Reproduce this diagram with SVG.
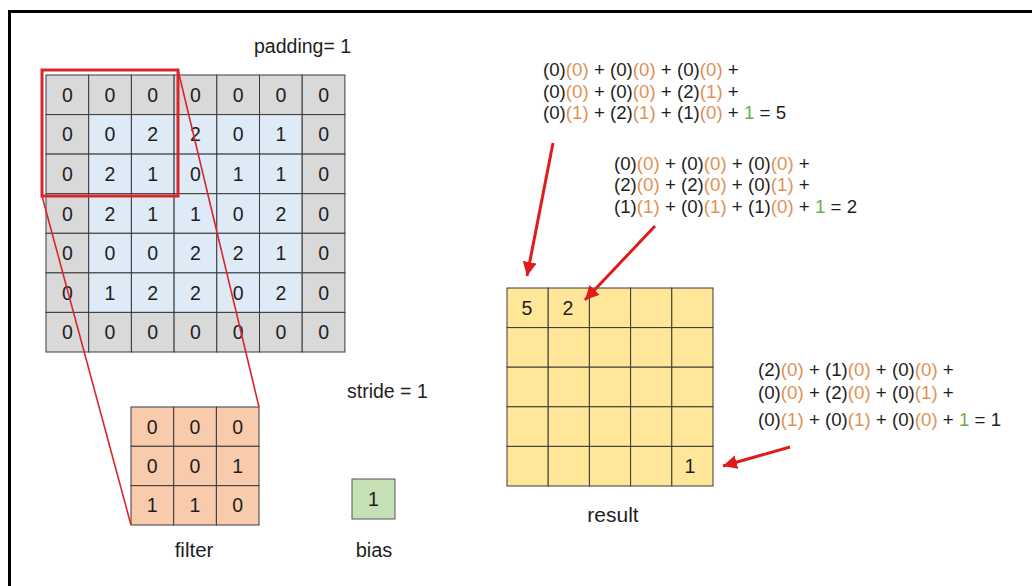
<svg xmlns="http://www.w3.org/2000/svg" width="1032" height="586" viewBox="0 0 1032 586">
<style>
text{font-family:"Liberation Sans",Arial,sans-serif;font-size:19.5px;fill:#1e1e1e}
.fm text{font-size:18.7px}
.c{text-anchor:middle}
.g{fill:#d9d9d9;stroke:#3a3a3a;stroke-width:1}
.b{fill:#deebf7;stroke:#3a3a3a;stroke-width:1}
.f{fill:#f8cbad;stroke:#3a3a3a;stroke-width:1}
.r{fill:#ffe699;stroke:#3a3a3a;stroke-width:1}
.o{fill:#df9155}
.gr{fill:#70ad47}
.red{stroke:#d9262b;fill:none}
.arr{stroke:#e01b1b;stroke-width:3;fill:none;marker-end:url(#ah)}
</style>
<defs>
<marker id="ah" markerUnits="userSpaceOnUse" markerWidth="16" markerHeight="14" refX="14" refY="7" orient="auto">
<path d="M0,0 L14,7 L0,14 Z" fill="#e01b1b"/>
</marker>
</defs>
<rect width="1032" height="586" fill="#fff"/>
<path d="M9.5,586 V11.5 H1032" fill="none" stroke="#000" stroke-width="3"/>

<g id="input">
<rect class="g" x="46" y="75" width="42.7" height="39.6"/><rect class="g" x="88.7" y="75" width="42.7" height="39.6"/><rect class="g" x="131.4" y="75" width="42.7" height="39.6"/><rect class="g" x="174.1" y="75" width="42.7" height="39.6"/><rect class="g" x="216.8" y="75" width="42.7" height="39.6"/><rect class="g" x="259.5" y="75" width="42.7" height="39.6"/><rect class="g" x="302.2" y="75" width="42.7" height="39.6"/>
<rect class="g" x="46" y="114.6" width="42.7" height="39.5"/><rect class="b" x="88.7" y="114.6" width="42.7" height="39.5"/><rect class="b" x="131.4" y="114.6" width="42.7" height="39.5"/><rect class="b" x="174.1" y="114.6" width="42.7" height="39.5"/><rect class="b" x="216.8" y="114.6" width="42.7" height="39.5"/><rect class="b" x="259.5" y="114.6" width="42.7" height="39.5"/><rect class="g" x="302.2" y="114.6" width="42.7" height="39.5"/>
<rect class="g" x="46" y="154.1" width="42.7" height="39.6"/><rect class="b" x="88.7" y="154.1" width="42.7" height="39.6"/><rect class="b" x="131.4" y="154.1" width="42.7" height="39.6"/><rect class="b" x="174.1" y="154.1" width="42.7" height="39.6"/><rect class="b" x="216.8" y="154.1" width="42.7" height="39.6"/><rect class="b" x="259.5" y="154.1" width="42.7" height="39.6"/><rect class="g" x="302.2" y="154.1" width="42.7" height="39.6"/>
<rect class="g" x="46" y="193.7" width="42.7" height="39.6"/><rect class="b" x="88.7" y="193.7" width="42.7" height="39.6"/><rect class="b" x="131.4" y="193.7" width="42.7" height="39.6"/><rect class="b" x="174.1" y="193.7" width="42.7" height="39.6"/><rect class="b" x="216.8" y="193.7" width="42.7" height="39.6"/><rect class="b" x="259.5" y="193.7" width="42.7" height="39.6"/><rect class="g" x="302.2" y="193.7" width="42.7" height="39.6"/>
<rect class="g" x="46" y="233.3" width="42.7" height="39.6"/><rect class="b" x="88.7" y="233.3" width="42.7" height="39.6"/><rect class="b" x="131.4" y="233.3" width="42.7" height="39.6"/><rect class="b" x="174.1" y="233.3" width="42.7" height="39.6"/><rect class="b" x="216.8" y="233.3" width="42.7" height="39.6"/><rect class="b" x="259.5" y="233.3" width="42.7" height="39.6"/><rect class="g" x="302.2" y="233.3" width="42.7" height="39.6"/>
<rect class="g" x="46" y="272.9" width="42.7" height="39.5"/><rect class="b" x="88.7" y="272.9" width="42.7" height="39.5"/><rect class="b" x="131.4" y="272.9" width="42.7" height="39.5"/><rect class="b" x="174.1" y="272.9" width="42.7" height="39.5"/><rect class="b" x="216.8" y="272.9" width="42.7" height="39.5"/><rect class="b" x="259.5" y="272.9" width="42.7" height="39.5"/><rect class="g" x="302.2" y="272.9" width="42.7" height="39.5"/>
<rect class="g" x="46" y="312.4" width="42.7" height="39.6"/><rect class="g" x="88.7" y="312.4" width="42.7" height="39.6"/><rect class="g" x="131.4" y="312.4" width="42.7" height="39.6"/><rect class="g" x="174.1" y="312.4" width="42.7" height="39.6"/><rect class="g" x="216.8" y="312.4" width="42.7" height="39.6"/><rect class="g" x="259.5" y="312.4" width="42.7" height="39.6"/><rect class="g" x="302.2" y="312.4" width="42.7" height="39.6"/>
<g class="c">
<text x="67.4" y="101.8">0</text><text x="110" y="101.8">0</text><text x="152.8" y="101.8">0</text><text x="195.5" y="101.8">0</text><text x="238.2" y="101.8">0</text><text x="280.9" y="101.8">0</text><text x="323.6" y="101.8">0</text>
<text x="67.4" y="141.4">0</text><text x="110" y="141.4">0</text><text x="152.8" y="141.4">2</text><text x="195.5" y="141.4">2</text><text x="238.2" y="141.4">0</text><text x="280.9" y="141.4">1</text><text x="323.6" y="141.4">0</text>
<text x="67.4" y="180.9">0</text><text x="110" y="180.9">2</text><text x="152.8" y="180.9">1</text><text x="195.5" y="180.9">0</text><text x="238.2" y="180.9">1</text><text x="280.9" y="180.9">1</text><text x="323.6" y="180.9">0</text>
<text x="67.4" y="220.5">0</text><text x="110" y="220.5">2</text><text x="152.8" y="220.5">1</text><text x="195.5" y="220.5">1</text><text x="238.2" y="220.5">0</text><text x="280.9" y="220.5">2</text><text x="323.6" y="220.5">0</text>
<text x="67.4" y="260.1">0</text><text x="110" y="260.1">0</text><text x="152.8" y="260.1">0</text><text x="195.5" y="260.1">2</text><text x="238.2" y="260.1">2</text><text x="280.9" y="260.1">1</text><text x="323.6" y="260.1">0</text>
<text x="67.4" y="299.7">0</text><text x="110" y="299.7">1</text><text x="152.8" y="299.7">2</text><text x="195.5" y="299.7">2</text><text x="238.2" y="299.7">0</text><text x="280.9" y="299.7">2</text><text x="323.6" y="299.7">0</text>
<text x="67.4" y="339.2">0</text><text x="110" y="339.2">0</text><text x="152.8" y="339.2">0</text><text x="195.5" y="339.2">0</text><text x="238.2" y="339.2">0</text><text x="280.9" y="339.2">0</text><text x="323.6" y="339.2">0</text>
</g>
</g>

<g id="filter">
<rect class="f" x="131" y="407" width="42.7" height="39.3"/><rect class="f" x="173.7" y="407" width="42.7" height="39.3"/><rect class="f" x="216.4" y="407" width="42.6" height="39.3"/>
<rect class="f" x="131" y="446.3" width="42.7" height="39.4"/><rect class="f" x="173.7" y="446.3" width="42.7" height="39.4"/><rect class="f" x="216.4" y="446.3" width="42.6" height="39.4"/>
<rect class="f" x="131" y="485.7" width="42.7" height="39.3"/><rect class="f" x="173.7" y="485.7" width="42.7" height="39.3"/><rect class="f" x="216.4" y="485.7" width="42.6" height="39.3"/>
<g class="c">
<text x="152.3" y="433.7">0</text><text x="195" y="433.7">0</text><text x="237.7" y="433.7">0</text>
<text x="152.3" y="473">0</text><text x="195" y="473">0</text><text x="237.7" y="473">1</text>
<text x="152.3" y="512.3">1</text><text x="195" y="512.3">1</text><text x="237.7" y="512.3">0</text>
<text x="194" y="557" style="font-size:20.5px">filter</text>
</g>
</g>

<g id="bias">
<rect x="352" y="479" width="43" height="40" fill="#c5e0b4" stroke="#555" stroke-width="1"/>
<text class="c" x="373.5" y="506">1</text>
<text class="c" x="374" y="557" style="font-size:20px">bias</text>
</g>

<g id="result">
<rect class="r" x="507" y="288" width="41.2" height="39.6"/><rect class="r" x="548.2" y="288" width="41.2" height="39.6"/><rect class="r" x="589.4" y="288" width="41.2" height="39.6"/><rect class="r" x="630.6" y="288" width="41.2" height="39.6"/><rect class="r" x="671.8" y="288" width="41.2" height="39.6"/>
<rect class="r" x="507" y="327.6" width="41.2" height="39.6"/><rect class="r" x="548.2" y="327.6" width="41.2" height="39.6"/><rect class="r" x="589.4" y="327.6" width="41.2" height="39.6"/><rect class="r" x="630.6" y="327.6" width="41.2" height="39.6"/><rect class="r" x="671.8" y="327.6" width="41.2" height="39.6"/>
<rect class="r" x="507" y="367.2" width="41.2" height="39.6"/><rect class="r" x="548.2" y="367.2" width="41.2" height="39.6"/><rect class="r" x="589.4" y="367.2" width="41.2" height="39.6"/><rect class="r" x="630.6" y="367.2" width="41.2" height="39.6"/><rect class="r" x="671.8" y="367.2" width="41.2" height="39.6"/>
<rect class="r" x="507" y="406.8" width="41.2" height="39.6"/><rect class="r" x="548.2" y="406.8" width="41.2" height="39.6"/><rect class="r" x="589.4" y="406.8" width="41.2" height="39.6"/><rect class="r" x="630.6" y="406.8" width="41.2" height="39.6"/><rect class="r" x="671.8" y="406.8" width="41.2" height="39.6"/>
<rect class="r" x="507" y="446.4" width="41.2" height="39.6"/><rect class="r" x="548.2" y="446.4" width="41.2" height="39.6"/><rect class="r" x="589.4" y="446.4" width="41.2" height="39.6"/><rect class="r" x="630.6" y="446.4" width="41.2" height="39.6"/><rect class="r" x="671.8" y="446.4" width="41.2" height="39.6"/>
<g class="c">
<text x="527" y="315">5</text><text x="568" y="315">2</text><text x="690" y="473.2">1</text>
<text x="613" y="522" style="font-size:21px">result</text>
</g>
</g>

<g id="labels">
<text x="254" y="53">padding= 1</text>
<text x="347" y="398">stride = 1</text>
</g>

<g class="fm">
<g id="formula1">
<text x="543" y="76">(0)<tspan class="o">(0)</tspan> + (0)<tspan class="o">(0)</tspan> + (0)<tspan class="o">(0)</tspan> +</text>
<text x="543" y="97.5">(0)<tspan class="o">(0)</tspan> + (0)<tspan class="o">(0)</tspan> + (2)<tspan class="o">(1)</tspan> +</text>
<text x="543" y="119">(0)<tspan class="o">(1)</tspan> + (2)<tspan class="o">(1)</tspan> + (1)<tspan class="o">(0)</tspan> + <tspan class="gr">1</tspan> = 5</text>
</g>
<g id="formula2">
<text x="614" y="169.5">(0)<tspan class="o">(0)</tspan> + (0)<tspan class="o">(0)</tspan> + (0)<tspan class="o">(0)</tspan> +</text>
<text x="614" y="191">(2)<tspan class="o">(0)</tspan> + (2)<tspan class="o">(0)</tspan> + (0)<tspan class="o">(1)</tspan> +</text>
<text x="614" y="212.5">(1)<tspan class="o">(1)</tspan> + (0)<tspan class="o">(1)</tspan> + (1)<tspan class="o">(0)</tspan> + <tspan class="gr">1</tspan> = 2</text>
</g>
<g id="formula3">
<text x="758" y="376">(2)<tspan class="o">(0)</tspan> + (1)<tspan class="o">(0)</tspan> + (0)<tspan class="o">(0)</tspan> +</text>
<text x="758" y="398.5">(0)<tspan class="o">(0)</tspan> + (2)<tspan class="o">(0)</tspan> + (0)<tspan class="o">(1)</tspan> +</text>
<text x="758" y="426">(0)<tspan class="o">(1)</tspan> + (0)<tspan class="o">(1)</tspan> + (0)<tspan class="o">(0)</tspan> + <tspan class="gr">1</tspan> = 1</text>
</g>
</g>

<g id="connectors">
<rect class="red" x="42" y="70" width="136" height="126" stroke-width="3"/>
<line class="red" x1="178" y1="70" x2="259" y2="407" stroke-width="1.6"/>
<line class="red" x1="42" y1="196" x2="131" y2="525" stroke-width="1.6"/>
<line class="arr" x1="553" y1="143" x2="527" y2="276"/>
<line class="arr" x1="655" y1="226" x2="585" y2="300"/>
<line class="arr" x1="790" y1="447" x2="723" y2="466"/>
</g>
</svg>
